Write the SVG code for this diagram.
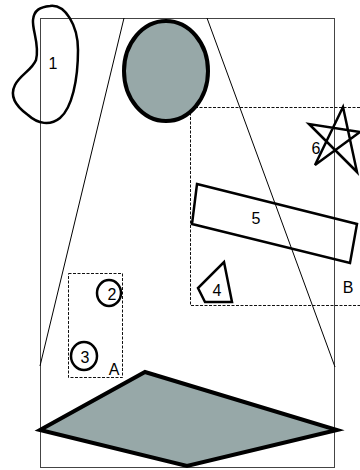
<svg xmlns="http://www.w3.org/2000/svg" width="360" height="470" viewBox="0 0 360 470">
<style>
.frame{fill:none;stroke:#444;stroke-width:1}
.thin{fill:none;stroke:#000;stroke-width:1}
.dash{fill:none;stroke:#111;stroke-width:1;stroke-dasharray:3,1.5}
.shape{fill:none;stroke:#000;stroke-width:2.5;stroke-linejoin:miter}
.filled{fill:#97a8a8;stroke:#000;stroke-width:4;stroke-linejoin:miter}
text{font-family:"Liberation Sans",Arial,sans-serif;font-size:16px;fill:#000;text-anchor:middle;dominant-baseline:central}
</style>
<rect width="360" height="470" fill="#fff"/>
<g id="frame">
<rect class="frame" x="40.5" y="18.5" width="294" height="449"/>
</g>
<g id="connectors">
<line class="thin" x1="124" y1="18" x2="40" y2="366"/>
<line class="thin" x1="207" y1="18" x2="335" y2="367"/>
</g>
<g id="groupB">
<rect class="dash" x="190.5" y="107.5" width="175" height="198"/>
<text x="348" y="287">B</text>
</g>
<g id="groupA">
<rect class="dash" x="68.5" y="273.5" width="54" height="104"/>
<text x="114" y="369">A</text>
</g>
<g id="node1">
<path class="shape" d="M50,6 C65,4 78,25 78,50 C78,80 72,108 60,118 C50,126 38,124 28,115 C14,105 10,95 15,85 C20,75 32,70 36,60 C40,45 32,30 33,20 C34,10 40,7 50,6 Z"/>
<text x="53" y="63">1</text>
</g>
<g id="ellipse">
<ellipse class="filled" cx="166" cy="71" rx="42" ry="50"/>
</g>
<g id="node2">
<ellipse class="shape" cx="109" cy="293" rx="12" ry="13"/>
<text x="112" y="294">2</text>
</g>
<g id="node3">
<ellipse class="shape" cx="84" cy="356" rx="13" ry="14"/>
<text x="85" y="357">3</text>
</g>
<g id="node4">
<polygon class="shape" points="224,262 232,302 205,302 198,288"/>
<text x="217" y="290">4</text>
</g>
<g id="node5">
<polygon class="shape" points="197,184 357,224 350,263 192,224"/>
<text x="256" y="218">5</text>
</g>
<g id="node6">
<polygon class="shape" points="343,107 315,165 360,132 309,124 357,172"/>
<text x="316" y="148">6</text>
</g>
<g id="diamond">
<polygon class="filled" points="40,430 145,372 337,430 187,466"/>
</g>
</svg>
